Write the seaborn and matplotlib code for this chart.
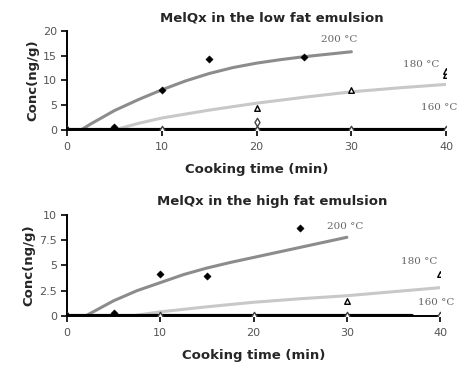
import matplotlib
matplotlib.use("Agg")
import matplotlib.pyplot as plt
import seaborn as sns
import pandas as pd

sns.set_style("ticks")
plt.rcParams['font.family'] = ['DejaVu Sans']

# ---- data: low fat emulsion ----
low_200_t = [0, 5, 10, 15, 25]
low_200_c = [0, 0.5, 8.0, 14.3, 14.8]
low_180_t = [20, 30, 40, 40]
low_180_c = [4.5, 8.0, 11.0, 12.0]
low_160_t = [0, 10, 20, 20, 30, 40]
low_160_c = [0, 0, 1.5, 0, 0, 0]

low_fit200_t = [1.5, 2.5, 5, 7.5, 10, 12.5, 15, 17.5, 20, 22.5, 25, 27.5, 30]
low_fit200_c = [0, 1.2, 3.9, 6.1, 8.1, 9.9, 11.4, 12.6, 13.5, 14.2, 14.8, 15.3, 15.8]
low_fit180_t = [5, 7.5, 10, 15, 20, 25, 30, 35, 40]
low_fit180_c = [0, 1.3, 2.4, 4.0, 5.4, 6.6, 7.7, 8.5, 9.2]
low_fit160_t = [0, 40]
low_fit160_c = [0, 0]

# ---- data: high fat emulsion ----
high_200_t = [0, 5, 10, 15, 25]
high_200_c = [0, 0.3, 4.2, 4.0, 8.7]
high_180_t = [30, 40]
high_180_c = [1.5, 4.2]
high_160_t = [0, 10, 20, 30, 40]
high_160_c = [0, 0, 0, 0, 0]

high_fit200_t = [2, 5, 7.5, 10, 12.5, 15, 17.5, 20, 22.5, 25, 27.5, 30]
high_fit200_c = [0, 1.5, 2.5, 3.3, 4.1, 4.75, 5.3, 5.8, 6.3, 6.8, 7.3, 7.8]
high_fit180_t = [7, 10, 15, 20, 25, 30, 35, 40]
high_fit180_c = [0, 0.4, 0.9, 1.35, 1.7, 2.0, 2.4, 2.8]
high_fit160_t = [0, 37, 37.7, 40]
high_fit160_c = [0, 0, None, 0]

xticks = [0, 10, 20, 30, 40]
low_yticks = [0, 5, 10, 15, 20]
high_yticks = [0, 2.5, 5, 7.5, 10]
high_yticklabels = ["0", "2.5", "5", "7.5", "10"]

fig = plt.figure(figsize=(4.59, 3.69), dpi=100)
ax1 = fig.add_axes([0.146, 0.648, 0.826, 0.268])
ax2 = fig.add_axes([0.146, 0.144, 0.813, 0.273])

C200 = "#8c8c8c"
C180 = "#c8c8c8"

def panel(ax, f200t, f200c, f180t, f180c, f160t, f160c,
          p200t, p200c, p180t, p180c, p160t, p160c):
    sns.lineplot(x=f200t, y=f200c, ax=ax, color=C200, lw=2.2, zorder=2)
    sns.lineplot(x=f180t, y=f180c, ax=ax, color=C180, lw=2.2, zorder=2)
    segs = []
    cur_t, cur_c = [], []
    for t, c in zip(f160t, f160c):
        if c is None:
            segs.append((cur_t, cur_c)); cur_t, cur_c = [], []
        else:
            cur_t.append(t); cur_c.append(c)
    segs.append((cur_t, cur_c))
    for st, sc in segs:
        if len(st) > 1:
            sns.lineplot(x=st, y=sc, ax=ax, color="black", lw=3, zorder=3)
    sns.scatterplot(x=p200t, y=p200c, ax=ax, marker="D", color="black", s=14,
                    edgecolor="black", zorder=5)
    sns.scatterplot(x=p180t, y=p180c, ax=ax, marker="^", facecolor="white",
                    edgecolor="black", linewidth=1, s=16, zorder=5)
    sns.scatterplot(x=p160t, y=p160c, ax=ax, marker="d", facecolor="white",
                    edgecolor="#444444", linewidth=1, s=18, zorder=4)
    sns.despine(ax=ax)
    ax.set_xlim(0, 40)
    ax.set_xticks(xticks)
    ax.tick_params(axis="both", labelsize=8, colors="black", labelcolor="#555555",
                   length=4, width=1.2, direction="out")
    ax.tick_params(axis="x", pad=5)
    ax.tick_params(axis="y", pad=3)
    for s in ["left", "bottom"]:
        ax.spines[s].set_linewidth(1.4)
        ax.spines[s].set_color("black")
    ax.set_xlabel("Cooking time (min)", fontsize=9.5, fontweight="bold", labelpad=8)
    ax.set_ylabel("Conc(ng/g)", fontsize=9.5, fontweight="bold", labelpad=3)

panel(ax1, low_fit200_t, low_fit200_c, low_fit180_t, low_fit180_c, low_fit160_t, low_fit160_c,
      low_200_t, low_200_c, low_180_t, low_180_c, low_160_t, low_160_c)
ax1.set_ylim(0, 20)
ax1.set_yticks(low_yticks)
ax1.set_title("MelQx in the low fat emulsion", fontsize=9.5, fontweight="bold", pad=7, x=0.54)
tf = dict(fontsize=7.5, family="DejaVu Serif", color="#666666", clip_on=False)
ax1.text(26.8, 17.8, "200 °C", **tf)
ax1.text(35.5, 12.8, "180 °C", **tf)
ax1.text(37.3, 4.0, "160 °C", **tf)

panel(ax2, high_fit200_t, high_fit200_c, high_fit180_t, high_fit180_c, high_fit160_t, high_fit160_c,
      high_200_t, high_200_c, high_180_t, high_180_c, high_160_t, high_160_c)
ax2.set_ylim(0, 10)
ax2.set_yticks(high_yticks)
ax2.set_yticklabels(high_yticklabels)
ax2.set_title("MelQx in the high fat emulsion", fontsize=9.5, fontweight="bold", pad=7, x=0.55)
ax2.text(27.9, 8.6, "200 °C", **tf)
ax2.text(35.8, 5.1, "180 °C", **tf)
ax2.text(37.6, 1.1, "160 °C", **tf)

fig.savefig("out.png", dpi=100)
